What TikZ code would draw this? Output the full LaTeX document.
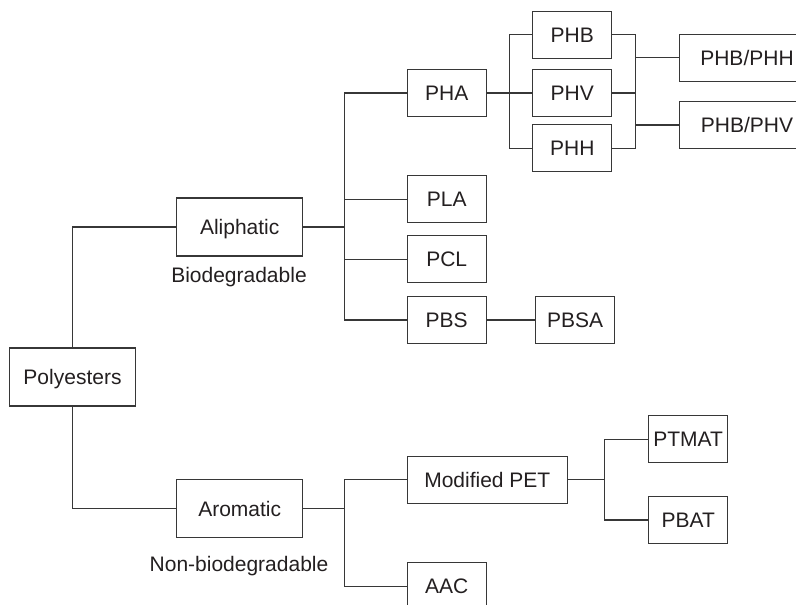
\documentclass[tikz,border=0pt]{standalone}
\usepackage{fontspec}
\setmainfont{Liberation Sans}
\usetikzlibrary{positioning,calc}
\definecolor{inkgrey}{RGB}{35,31,32}
\definecolor{linegrey}{RGB}{55,55,55}
\tikzset{%
  every box/.style={
    rectangle,
    draw=linegrey,
    line width=1.1pt,
    minimum width=79pt,
    minimum height=47pt,
    inner sep=0pt,
    text height=15pt,
    text depth=0pt,
    font=\fontsize{21}{25}\selectfont,
    text=inkgrey
  },
  box big/.style={minimum width=126pt, minimum height=58pt},
  box wide/.style={minimum width=160pt},
  box mixed/.style={minimum width=135pt},
  box note/.style={text height=15pt, text depth=0pt, font=\fontsize{21}{25}\selectfont, text=inkgrey},
  link/.style={draw=linegrey, line width=1.1pt}
}
\begin{document}
\begin{tikzpicture}[x=1pt, y=-1pt]
    \clip (0,0) rectangle (796,605);
    \foreach \n/\l/\x/\y/\s in {poly/Polyesters/72.5/377/big, aliph/Aliphatic/239.7/227/big,
        arom/Aromatic/239.7/508.5/big, pha/PHA/446.7/93/plain, pla/PLA/446.7/199.3/plain,
        pcl/PCL/446.7/259.3/plain, pbs/PBS/446.7/320/plain, pbsa/PBSA/575.2/320/plain,
        phb/PHB/572.3/34.8/plain, phv/PHV/572.3/93/plain, phh/PHH/572.3/148.3/plain,
        mpet/Modified PET/487.3/479.8/wide, aac/AAC/446.7/586.2/plain,
        ptmat/PTMAT/688.2/439.3/plain, pbat/PBAT/688.2/520/plain}
      \node [every box/.try, box \s/.try] (\n) at (\x,\y) {\l};
    \node [every box/.try, box mixed] (phbphh) at (747,57.7) {PHB/PHH};
    \node [every box/.try, box mixed] (phbphv) at (747,125) {PHB/PHV};

    \node [box note] (bio) at (239,275.3) {Biodegradable};
    \node [box note] (nonbio) at (239,563.5) {Non-biodegradable};

    % main branches
    \draw [link] (poly.north) |- (aliph.west);
    \draw [link] (poly.south) |- (arom.west);
    \draw [link] (aliph.east) -- ++(41.6,0) coordinate (abus);
    \foreach \n in {pha,pla,pcl,pbs}
      \draw [link] (abus) |- (\n.west);
    \draw [link] (arom.east) -- ++(41.6,0) coordinate (rbus);
    \foreach \n in {mpet,aac}
      \draw [link] (rbus) |- (\n.west);

    % PHA family
    \draw [link] (pha.east) -- ++(23,0) coordinate (pbus);
    \foreach \n in {phb,phv,phh}
      \draw [link] (pbus) |- (\n.west);
    \coordinate (hbus) at (635.7,0);
    \foreach \n in {phb,phv,phh}
      \draw [link] (\n.east) -- (\n.east -| hbus);
    \draw [link] (phb.east -| hbus) -- (phh.east -| hbus);
    \foreach \n in {phbphh,phbphv}
      \draw [link] (\n.west) -- (\n.west -| hbus);

    \draw [link] (pbs.east) -- (pbsa.west);
    \draw [link] (mpet.east) -- ++(37,0) coordinate (mbus);
    \foreach \n in {ptmat,pbat}
      \draw [link] (mbus) |- (\n.west);
\end{tikzpicture}
\end{document}
